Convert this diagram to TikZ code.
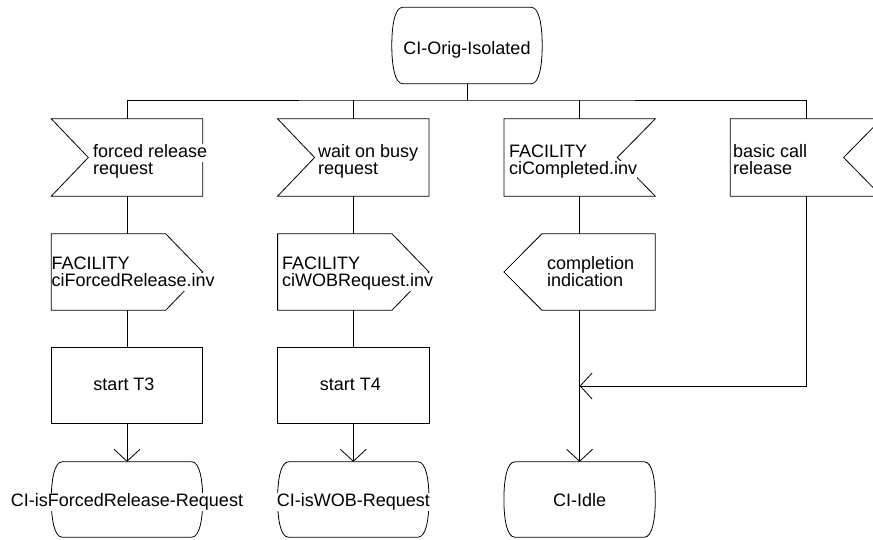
\documentclass[tikz,border=0pt]{standalone}
\usepackage{fontspec}
\setmainfont{Liberation Sans}
\usetikzlibrary{arrows.meta}
\pgfdeclarelayer{background}
\pgfsetlayers{background,main}
\def\colgap{226.3}
\def\inputs{0/inA/-34/forced release/request, 1/inB/-35.3/wait on busy/request, 2/inC/-70.6/FACILITY/ciCompleted.inv, 3/inD/-72.9/basic call/release}
\def\outputs{0/outA/-75.5/FACILITY/ciForcedRelease.inv, 1/outB/-71.3/FACILITY/ciWOBRequest.inv, 2/outC/-32.6/completion/indication}
\def\tasks{0/taskA/start T3, 1/taskB/start T4}
\def\states{0/stA/CI-isForcedRelease-Request, 1/stB/CI-isWOB-Request, 2/stC/CI-Idle}
\tikzset{
  frame/.style={rectangle, draw=none, minimum width=151pt, minimum height=76pt, inner sep=0pt},
  sym/.style={draw, line width=0.8pt},
  flow/.style={draw, line width=0.8pt},
  into/.style={flow, -{Straight Barb[length=12pt, width=26pt]}},
  txt/.style={font=\fontsize{18}{17}\selectfont, inner sep=0pt, text height=13pt, text depth=5pt, fill=white, anchor=base west},
  midtxt/.style={txt, anchor=base}
}

\begin{document}
\begin{tikzpicture}[x=1pt, y=-1pt]
  \clip (0,0) rectangle (873,539);

  % The state we start from
  \node[frame, minimum width=150pt] (top) at (467,45.5) {};
  \node[midtxt] (top-t) at (467,54) {CI-Orig-Isolated};
  \coordinate (bus) at (467,100);

  % The signals that come in
  \foreach \c/\n/\dx/\one/\two in \inputs {
    \node[frame, minimum height=77pt] (\n) at ({127+\colgap*\c},157.5) {};
    \node[txt] (\n-1) at ({127+\colgap*\c+\dx},157) {\one};
    \node[txt] (\n-2) at ({127+\colgap*\c+\dx},174) {\two};
  }
  % the signals that go out
  \foreach \c/\n/\dx/\one/\two in \outputs {
    \node[frame] (\n) at ({127+\colgap*\c},272) {};
    \node[txt] (\n-1) at ({127+\colgap*\c+\dx},269) {\one};
    \node[txt] (\n-2) at ({127+\colgap*\c+\dx},286) {\two};
  }
  % the timers
  \foreach \c/\n/\say in \tasks {
    \node[frame, minimum height=75pt] (\n) at ({127+\colgap*\c},385.5) {};
    \node[midtxt] (\n-t) at ({124+\colgap*\c},390) {\say};
  }
  % the states we end in
  \foreach \c/\n/\say in \states {
    \node[frame, minimum height=75pt] (\n) at ({127+\colgap*\c},499.5) {};
    \node[midtxt] (\n-t) at ({127+\colgap*\c},506) {\say};
  }
  \coordinate (merge) at (outC |- 0,386);

  % The outlines of the symbols
  \begin{pgfonlayer}{background}
    \foreach \n in {top, stA, stB, stC}
      \draw[sym] ([xshift=11pt]\n.north west) -- ([xshift=-11pt]\n.north east)
        .. controls ([xshift=-3pt]\n.north east) and ([yshift=-18pt]\n.north east) .. (\n.east)
        .. controls ([yshift=18pt]\n.south east) and ([xshift=-3pt]\n.south east) .. ([xshift=-11pt]\n.south east)
        -- ([xshift=11pt]\n.south west)
        .. controls ([xshift=3pt]\n.south west) and ([yshift=18pt]\n.south west) .. (\n.west)
        .. controls ([yshift=-18pt]\n.north west) and ([xshift=3pt]\n.north west) .. cycle;
    \foreach \n in {inA, inB}
      \draw[sym] (\n.north west) -- (\n.north east) -- (\n.south east) -- (\n.south west) -- ([xshift=37pt]\n.west) -- cycle;
    \foreach \n in {inC, inD}
      \draw[sym] (\n.north west) -- (\n.north east) -- ([xshift=-38pt]\n.east) -- (\n.south east) -- (\n.south west) -- cycle;
    \foreach \n in {outA, outB}
      \draw[sym] (\n.north west) -- ([xshift=-37pt]\n.north east) -- (\n.east) -- ([xshift=-37pt]\n.south east) -- (\n.south west) -- cycle;
    \draw[sym] ([xshift=38pt]outC.north west) -- (outC.north east) -- (outC.south east) -- ([xshift=38pt]outC.south west) -- (outC.west) -- cycle;
    \foreach \n in {taskA, taskB}
      \draw[sym] (\n.north west) rectangle (\n.south east);
  \end{pgfonlayer}

  % The flow lines
  \path[flow] (top) -- (bus);
  \path[flow] (inA.north) |- (bus) -| (inD.north);
  \foreach \n in {inB, inC}
    \path[flow] (\n.north) -- (\n.north |- bus);
  \foreach \a/\b in {inA/outA, outA/taskA, inB/outB, outB/taskB, inC/outC}
    \path[flow] (\a) -- (\b);
  \foreach \a/\b in {taskA/stA, taskB/stB, outC/stC}
    \path[into] (\a) -- (\b);
  \path[into] (inD.south) |- (merge);
\end{tikzpicture}
\end{document}
